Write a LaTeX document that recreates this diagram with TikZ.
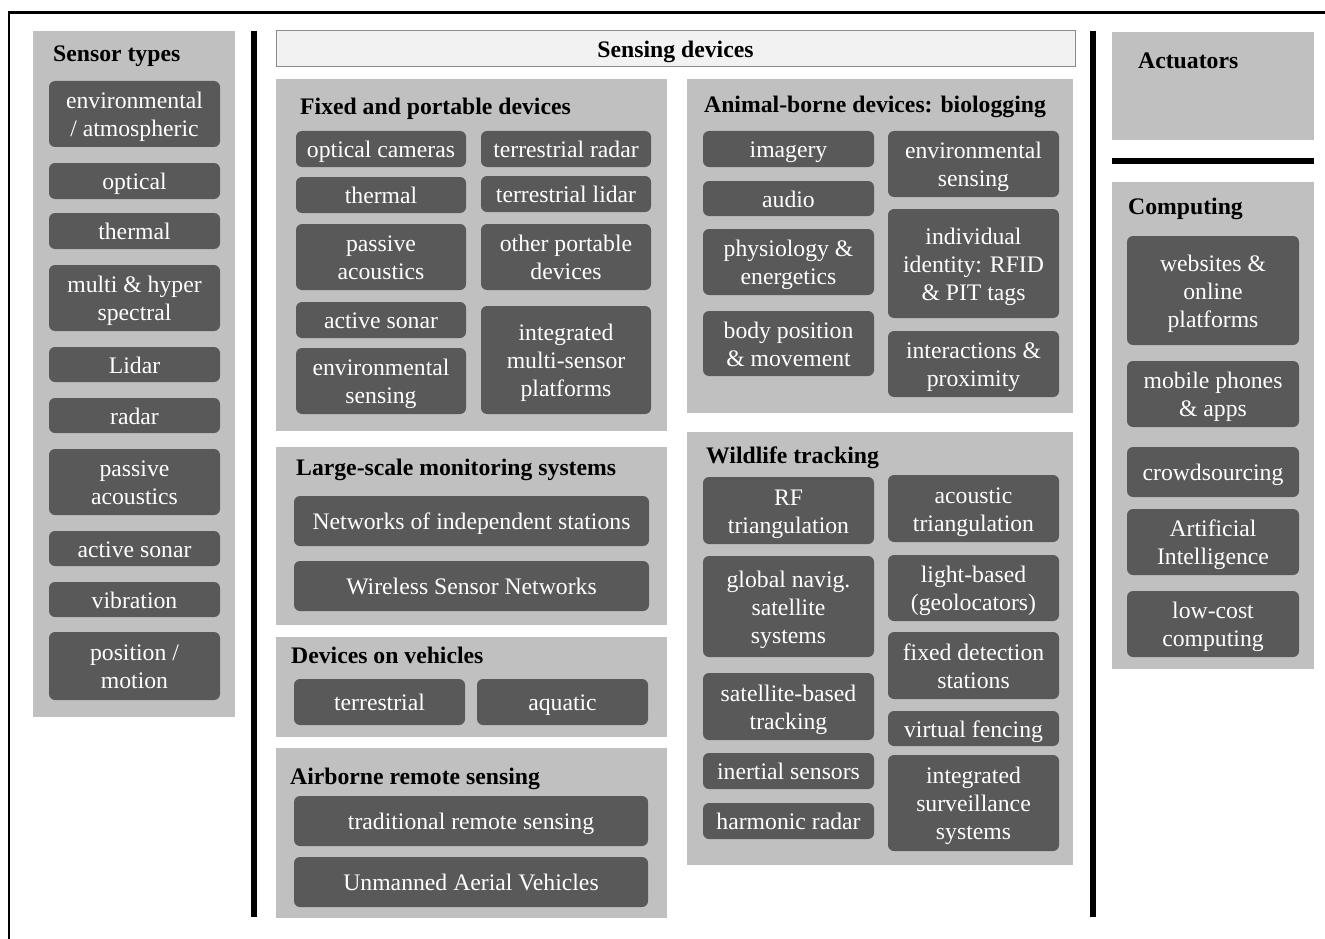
\documentclass[tikz,border=0pt]{standalone}
\usepackage{fontspec}
\setmainfont{Liberation Serif}
\definecolor{panelgray}{HTML}{C0C0C0}
\definecolor{boxgray}{HTML}{595959}
\definecolor{headfill}{HTML}{F2F2F2}
\definecolor{headdraw}{HTML}{8C8C8C}
\tikzset{
  panel/.style={fill=panelgray, draw=none},
  dboxfill/.style={fill=boxgray, draw=none, rounded corners=6pt},
  dtext/.style={text=white, align=center, inner sep=0pt, font=\fontsize{23.7}{28}\selectfont},
  ptitle/.style={anchor=base west, inner sep=0pt, font=\fontsize{23.7}{28}\selectfont\bfseries},
  sep/.style={line width=5.5pt, black},
}
% box: name, x1, y1, x2, y2, text
\newcommand{\bx}[6]{\path[dboxfill] (#2,#3) rectangle (#4,#5);
  \node[dtext] (#1) at ({(#2+#4)/2},{(#3+#5)/2+3.2}) {\strut #6\strut};}
\newcommand{\pnl}[5]{\path[panel] (#2,#3) rectangle (#4,#5); \coordinate (#1) at (#2,#3);}
\begin{document}
\begin{tikzpicture}[x=1pt,y=-1pt]
\useasboundingbox (0,0) rectangle (1325,939);
\fill[white] (0,0) rectangle (1325,939);
% outer frame
\coordinate (fb) at (1325,12.5);
\coordinate (fc) at (9,939);
\draw[line width=2.5pt] (fc) -- (9,12.5) -- (fb);
% separators
\coordinate (s1a) at (254,31); \coordinate (s1b) at (254,917);
\draw[sep] (s1a) -- (s1b);
\coordinate (s2a) at (1093,31); \coordinate (s2b) at (1093,917);
\draw[sep] (s2a) -- (s2b);
\coordinate (s3a) at (1112,161); \coordinate (s3b) at (1314,161);
\draw[line width=6pt] (s3a) -- (s3b);

% Sensor types
\pnl{pst}{33}{31}{235}{717}
\node[ptitle] (tst) at (53,62) {Sensor types};
\bx{st1}{49}{81}{220}{147}{environmental\\/ atmospheric}
\bx{st2}{49}{163}{220}{199}{optical}
\bx{st3}{49}{213}{220}{249}{thermal}
\bx{st4}{49}{265}{220}{331}{multi \& hyper\\spectral}
\bx{st5}{49}{347}{220}{382}{Lidar}
\bx{st6}{49}{398}{220}{433}{radar}
\bx{st7}{49}{449}{220}{515}{passive\\acoustics}
\bx{st8}{49}{531}{220}{566}{active sonar}
\bx{st9}{49}{582}{220}{617}{vibration}
\bx{st10}{49}{632}{220}{700}{position /\\motion}

% Sensing devices header
\path[fill=headfill, draw=headdraw, line width=1pt] (276,31) rectangle (1075,67);
\node[ptitle, anchor=base] (hsd) at (675.5,58) {Sensing devices};

% Fixed and portable devices
\pnl{pfp}{276}{79}{667}{431}
\node[ptitle] (tfp) at (300,115) {Fixed and portable devices};
\bx{fp1}{296}{131}{466}{167}{optical cameras}
\bx{fp2}{296}{177}{466}{213}{thermal}
\bx{fp3}{296}{224}{466}{290}{passive\\acoustics}
\bx{fp4}{296}{302}{466}{338}{active sonar}
\bx{fp5}{296}{348}{466}{414}{environmental\\sensing}
\bx{fp6}{481}{131}{651}{167}{terrestrial radar}
\bx{fp7}{481}{176}{651}{212}{terrestrial lidar}
\bx{fp8}{481}{224}{651}{290}{other portable\\devices}
\bx{fp9}{481}{306}{651}{414}{integrated\\multi-sensor\\platforms}

% Large-scale monitoring systems
\pnl{plm}{276}{447}{667}{625}
\node[ptitle] (tlm) at (296,475) {Large-scale monitoring systems};
\bx{lm1}{294}{496}{649}{546}{Networks of independent stations}
\bx{lm2}{294}{561}{649}{611}{Wireless Sensor Networks}

% Devices on vehicles
\pnl{pdv}{276}{637}{667}{737}
\node[ptitle] (tdv) at (291,663) {Devices on vehicles};
\bx{dv1}{294}{679}{465}{725}{terrestrial}
\bx{dv2}{477}{679}{648}{725}{aquatic}

% Airborne remote sensing
\pnl{par}{276}{748}{667}{918}
\node[ptitle] (tar) at (290,784) {Airborne remote sensing};
\bx{ar1}{294}{796}{648}{846}{traditional remote sensing}
\bx{ar2}{294}{857}{648}{907}{Unmanned Aerial Vehicles}

% Animal-borne devices
\pnl{pab}{687}{79}{1073}{413}
\node[ptitle] (tab) at (704,113) {Animal-borne devices: biologging};
\bx{ab1}{703}{131}{874}{167}{imagery}
\bx{ab2}{703}{181}{874}{216}{audio}
\bx{ab3}{703}{229}{874}{295}{physiology \&\\energetics}
\bx{ab4}{703}{311}{874}{376}{body position\\\& movement}
\bx{ab5}{888}{131}{1059}{197}{environmental\\sensing}
\bx{ab6}{888}{209}{1059}{318}{individual\\identity: RFID\\\& PIT tags}
\bx{ab7}{888}{331}{1059}{397}{interactions \&\\proximity}

% Wildlife tracking
\pnl{pwt}{687}{432}{1073}{865}
\node[ptitle] (twt) at (706,463) {Wildlife tracking};
\bx{wt1}{703}{477}{874}{544}{RF\\triangulation}
\bx{wt2}{703}{556}{874}{657}{global navig.\\satellite\\systems}
\bx{wt3}{703}{673}{874}{740}{satellite-based\\tracking}
\bx{wt4}{703}{753}{874}{789}{inertial sensors}
\bx{wt5}{703}{803}{874}{839}{harmonic radar}
\bx{wt6}{888}{475}{1059}{542}{acoustic\\triangulation}
\bx{wt7}{888}{555}{1059}{621}{light-based\\(geolocators)}
\bx{wt8}{888}{632}{1059}{699}{fixed detection\\stations}
\bx{wt9}{888}{711}{1059}{746}{virtual fencing}
\bx{wt10}{888}{755}{1059}{851}{integrated\\surveillance\\systems}

% Actuators
\pnl{pac}{1112}{32}{1314}{140}
\node[ptitle] (tac) at (1138,69) {Actuators};

% Computing
\pnl{pco}{1112}{182}{1314}{669}
\node[ptitle] (tco) at (1128,214) {Computing};
\bx{co1}{1127}{236}{1299}{345}{websites \&\\online\\platforms}
\bx{co2}{1127}{361}{1299}{427}{mobile phones\\\& apps}
\bx{co3}{1127}{447}{1299}{497}{crowdsourcing}
\bx{co4}{1127}{509}{1299}{575}{Artificial\\Intelligence}
\bx{co5}{1127}{591}{1299}{657}{low-cost\\computing}
\end{tikzpicture}
\end{document}
